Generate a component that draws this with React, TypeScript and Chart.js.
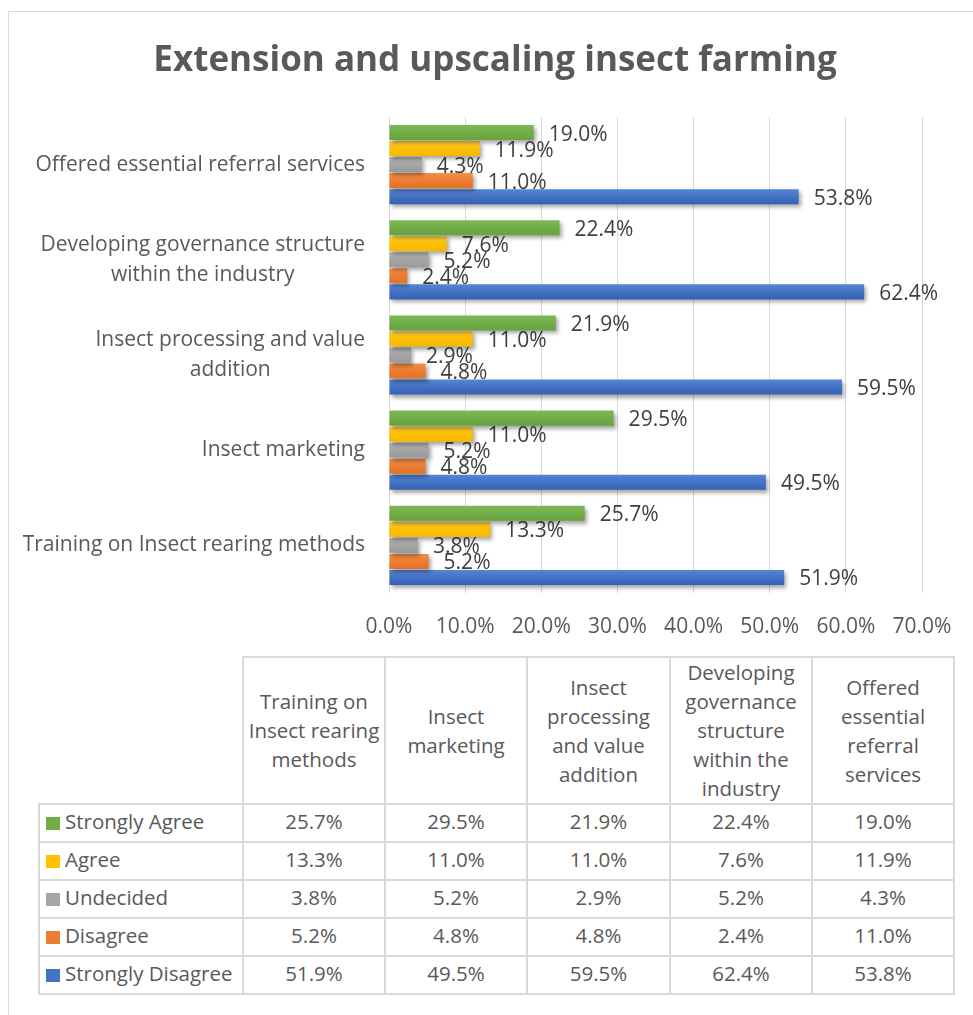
import React, { useEffect, useRef } from "react";
import { Chart, registerables } from "chart.js";

Chart.register(...registerables);

// ---------- data ----------
const categories = [
  "Training on Insect rearing methods",
  "Insect marketing",
  "Insect processing and value addition",
  "Developing governance structure within the industry",
  "Offered essential referral services",
];
const axisLabelLines = [
  ["Training on Insect rearing methods"],
  ["Insect marketing"],
  ["Insect processing and value", "addition"],
  ["Developing governance structure", "within the industry"],
  ["Offered essential referral services"],
];
const tableHeaderLines = [
  ["Training on", "Insect rearing", "methods"],
  ["Insect", "marketing"],
  ["Insect", "processing", "and value", "addition"],
  ["Developing", "governance", "structure", "within the", "industry"],
  ["Offered", "essential", "referral", "services"],
];
const seriesNames = ["Strongly Agree", "Agree", "Undecided", "Disagree", "Strongly Disagree"];
const stronglyAgree = [25.7, 29.5, 21.9, 22.4, 19.0];
const agree = [13.3, 11.0, 11.0, 7.6, 11.9];
const undecided = [3.8, 5.2, 2.9, 5.2, 4.3];
const disagree = [5.2, 4.8, 4.8, 2.4, 11.0];
const stronglyDisagree = [51.9, 49.5, 59.5, 62.4, 53.8];
const seriesValues = [stronglyAgree, agree, undecided, disagree, stronglyDisagree];
const seriesColors = ["#70AD47", "#FFC000", "#A5A5A5", "#ED7D31", "#4472C4"];
const seriesLight = ["#7DBA55", "#FFCF3A", "#B4B4B4", "#F58E48", "#5585D8"];
const seriesDark = ["#67A340", "#F5B800", "#9A9A9A", "#E2712A", "#365FB5"];
const xTicks = [0, 10, 20, 30, 40, 50, 60, 70];

const FONT = "'Open Sans', 'Noto Sans', sans-serif";
const TEXT = "#595959";
const LABEL = "#404040";

function gradientBg(i: number) {
  return (ctx: any) => {
    const chart = ctx.chart;
    const meta = chart.getDatasetMeta(ctx.datasetIndex);
    const el: any = meta && meta.data ? meta.data[ctx.dataIndex] : null;
    if (!el || typeof el.y !== "number" || isNaN(el.y) || !el.height) return seriesColors[i];
    const top = el.y - el.height / 2;
    const g = chart.ctx.createLinearGradient(0, top, 0, top + el.height);
    g.addColorStop(0, seriesLight[i]);
    g.addColorStop(0.5, seriesColors[i]);
    g.addColorStop(1, seriesDark[i]);
    return g;
  };
}

const labelsPlugin = {
  id: "valueLabels",
  beforeDatasetsDraw(chart: any) {
    const ctx = chart.ctx;
    ctx.save();
    ctx.font = `21px ${FONT}`;
    ctx.fillStyle = LABEL;
    ctx.textAlign = "left";
    ctx.textBaseline = "alphabetic";
    chart.data.datasets.forEach((ds: any, di: number) => {
      const meta = chart.getDatasetMeta(di);
      meta.data.forEach((el: any, idx: number) => {
        const v = ds.data[idx];
        ctx.fillText(v.toFixed(1) + "%", el.x + 15, el.y + 8);
      });
    });
    ctx.restore();
  },
};

const shadowPlugin = {
  id: "barShadow",
  beforeDatasetsDraw(chart: any) {
    const ctx = chart.ctx;
    ctx.save();
    ctx.shadowColor = "rgba(0,0,0,0.35)";
    ctx.shadowBlur = 4;
    ctx.shadowOffsetX = 2;
    ctx.shadowOffsetY = 3;
  },
  afterDatasetsDraw(chart: any) {
    chart.ctx.restore();
  },
};

const yLabelPlugin = {
  id: "yLabels",
  afterDraw(chart: any) {
    const ctx = chart.ctx;
    const yScale = chart.scales.y;
    const right = chart.chartArea.left - 24;
    ctx.save();
    ctx.font = `21px ${FONT}`;
    ctx.fillStyle = TEXT;
    ctx.textAlign = "center";
    ctx.textBaseline = "middle";
    const labels = chart.data.labels as string[];
    labels.forEach((_l: any, idx: number) => {
      const lines: string[] = (chart.options as any).plugins.yLabels.lines[idx];
      const maxW = Math.max(...lines.map((s) => ctx.measureText(s).width));
      const cx = right - maxW / 2;
      const cy = yScale.getPixelForValue(idx);
      const lh = 30;
      lines.forEach((s, li) => {
        const y = cy + (li - (lines.length - 1) / 2) * lh;
        ctx.fillText(s, cx, y);
      });
    });
    ctx.restore();
  },
};

function ChartCanvas() {
  const ref = useRef<HTMLCanvasElement | null>(null);
  useEffect(() => {
    if (!ref.current) return;
    const rev = <T,>(a: T[]) => a.slice().reverse();
    const chart = new Chart(ref.current, {
      type: "bar",
      data: {
        labels: rev(categories),
        datasets: seriesNames.map((name, i) => ({
          label: name,
          data: rev(seriesValues[i]),
          backgroundColor: gradientBg(i),
          borderWidth: 0,
          categoryPercentage: 0.842,
          barPercentage: 0.94,
        })),
      },
      options: {
        indexAxis: "y",
        animation: false,
        responsive: false,
        maintainAspectRatio: false,
        layout: { padding: { left: 59, right: 51, top: 0, bottom: 0 } },
        plugins: {
          legend: { display: false },
          tooltip: { enabled: false },
          title: {
            display: true,
            text: "Extension and upscaling insect farming",
            color: TEXT,
            font: { family: FONT, size: 35, weight: "bold", lineHeight: 1.2 },
            padding: { top: 28, bottom: 35 },
          },
          yLabels: { lines: rev(axisLabelLines) },
        } as any,
        scales: {
          x: {
            min: 0,
            max: 70,
            afterBuildTicks(scale: any) {
              scale.ticks = xTicks.map((v) => ({ value: v }));
            },
            afterFit(scale: any) {
              scale.height = 59;
            },
            grid: { color: "#D9D9D9", lineWidth: 1, drawTicks: false },
            border: { display: false },
            ticks: {
              padding: 21,
              color: TEXT,
              font: { family: FONT, size: 21 },
              callback: (v: any) => Number(v).toFixed(1) + "%",
            },
          },
          y: {
            afterFit(scale: any) {
              scale.width = 321;
            },
            grid: { display: false },
            border: { display: false },
            ticks: { display: false },
          },
        },
      },
      plugins: [labelsPlugin, shadowPlugin, yLabelPlugin],
    });
    chart.update();
    return () => chart.destroy();
  }, []);
  return <canvas ref={ref} width={964} height={640} style={{ display: "block", width: 964, height: 640 }} />;
}

export default function App() {
  const border = "2px solid #D9D9D9";
  const cellBase: React.CSSProperties = {
    border,
    padding: 0,
    textAlign: "center",
    verticalAlign: "middle",
    color: TEXT,
    fontFamily: FONT,
    fontSize: 20.5,
  };
  const dataCell: React.CSSProperties = { ...cellBase, paddingBottom: 4 };
  const colWidths = [204, 142, 142, 143, 142, 142];
  return (
    <div
      style={{
        position: "absolute",
        left: 8,
        top: 11,
        width: 965,
        height: 1004,
        borderTop: "1px solid #D9D9D9",
        borderLeft: "1px solid #D9D9D9",
        boxSizing: "border-box",
        overflow: "hidden",
        background: "#fff",
      }}
    >
      <ChartCanvas />
      <table
        style={{
          position: "absolute",
          left: 29,
          top: 644,
          borderCollapse: "collapse",
          tableLayout: "fixed",
          width: colWidths.reduce((a, b) => a + b, 0),
        }}
      >
        <colgroup>
          {colWidths.map((w, i) => (
            <col key={i} style={{ width: w }} />
          ))}
        </colgroup>
        <tbody>
          <tr style={{ height: 146 }}>
            <td style={{ ...cellBase, borderTop: "none", borderLeft: "none" }}></td>
            {tableHeaderLines.map((lines, i) => (
              <td key={i} style={{ ...cellBase, lineHeight: "29px" }}>
                {lines.map((l, j) => (
                  <div key={j}>{l}</div>
                ))}
              </td>
            ))}
          </tr>
          {seriesNames.map((name, si) => (
            <tr key={si} style={{ height: 38 }}>
              <td style={{ ...dataCell, textAlign: "left", whiteSpace: "nowrap" }}>
                <span
                  style={{
                    display: "inline-block",
                    width: 14,
                    height: 13,
                    background: seriesColors[si],
                    marginLeft: 6,
                    marginRight: 5,
                    verticalAlign: "-1px",
                  }}
                />
                {name}
              </td>
              {seriesValues[si].map((v, ci) => (
                <td key={ci} style={dataCell}>
                  {v.toFixed(1) + "%"}
                </td>
              ))}
            </tr>
          ))}
        </tbody>
      </table>
    </div>
  );
}
